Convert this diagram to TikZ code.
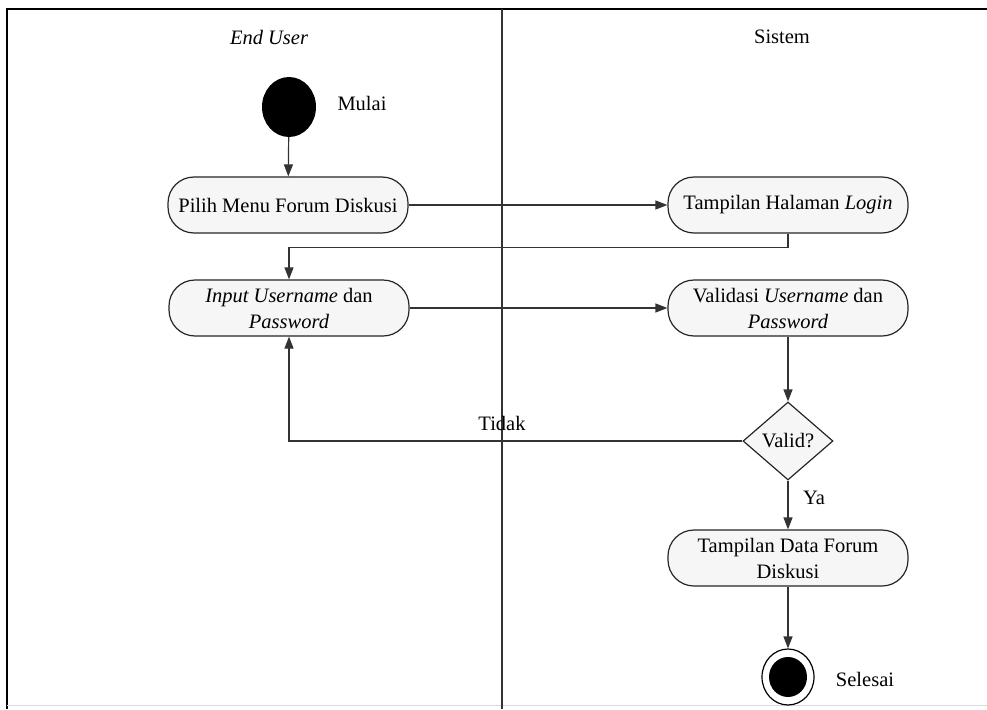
\documentclass[tikz,border=0pt]{standalone}
\usepackage{fontspec}
\setmainfont{Liberation Serif}
\usetikzlibrary{arrows.meta,shapes.geometric}
\newcommand\diagfont{\fontsize{20.5}{26}\selectfont}
\begin{document}
\begin{tikzpicture}[x=1pt,y=-1pt,
  act/.style={draw=black!85, line width=1.2pt, rounded corners=26pt, fill=gray!7,
    minimum width=240pt, minimum height=56pt, align=center, inner sep=2pt, font=\diagfont},
  lbl/.style={font=\diagfont, inner sep=0pt},
  arr/.style={draw=black!80, line width=1.2pt, -{Triangle[length=12pt,width=9pt]}},
  frame/.style={draw=black, line width=1.6pt},
  decision/.style={diamond, draw=black!85, line width=1.2pt, fill=gray!7, minimum width=90pt,
    minimum height=78pt, inner sep=0pt, font=\diagfont},
  startnode/.style={ellipse, fill=black, minimum width=54pt, minimum height=60pt, inner sep=0pt},
]
\useasboundingbox (0,0) rectangle (987,709);
\fill[white] (0,0) rectangle (987,709);
% frame and swimlanes
\draw[frame] (987,9) -- (7,9) -- (7,709);
\draw[draw=black!15, line width=1pt] (7,705) -- (987,705);
\draw[draw=black!80, line width=1.2pt] (502,9) -- (502,709);
\node[lbl] (hdrA) at (269,37) {\itshape End User};
\node[lbl] (hdrB) at (782,37) {Sistem};
% nodes
\node[startnode] (start) at (289,107) {};
\node[lbl] (mulai) at (362,103) {Mulai};
\node[act] (pilih) at (288,205) {Pilih Menu Forum Diskusi};
\node[act] (login) at (788,205) {Tampilan Halaman \textit{Login}};
\node[act] (input) at (289,308) {\textit{Input Username} dan\\\textit{Password}};
\node[act] (valid) at (788,308) {Validasi \textit{Username} dan\\\textit{Password}};
\node[decision] (dia) at (788,441) {Valid?};
\node[act] (data) at (788,558) {Tampilan Data Forum\\Diskusi};
\node[ellipse, draw=black, line width=1.2pt, minimum width=52pt, minimum height=56pt, inner sep=0pt] (endo) at (788,677) {};
\node[ellipse, fill=black, minimum width=38pt, minimum height=40pt, inner sep=0pt] (endi) at (788,677) {};
\node[lbl] (selesai) at (865,679) {Selesai};
% connectors
\draw[arr] (start) -- (pilih);
\draw[arr] (pilih) -- (login);
\draw[arr] (login.south) -- ++(0,14) -| (input.north);
\draw[arr] (input) -- (valid);
\draw[arr] (valid) -- (dia);
\draw[arr] (dia.west) -| (input.south);
\node[lbl] (tidak) at (502,423) {Tidak};
\draw[arr] (dia.south) -- (data.north);
\node[lbl] (ya) at (814,498) {Ya};
\draw[arr] (data) -- (endo);
\end{tikzpicture}
\end{document}
